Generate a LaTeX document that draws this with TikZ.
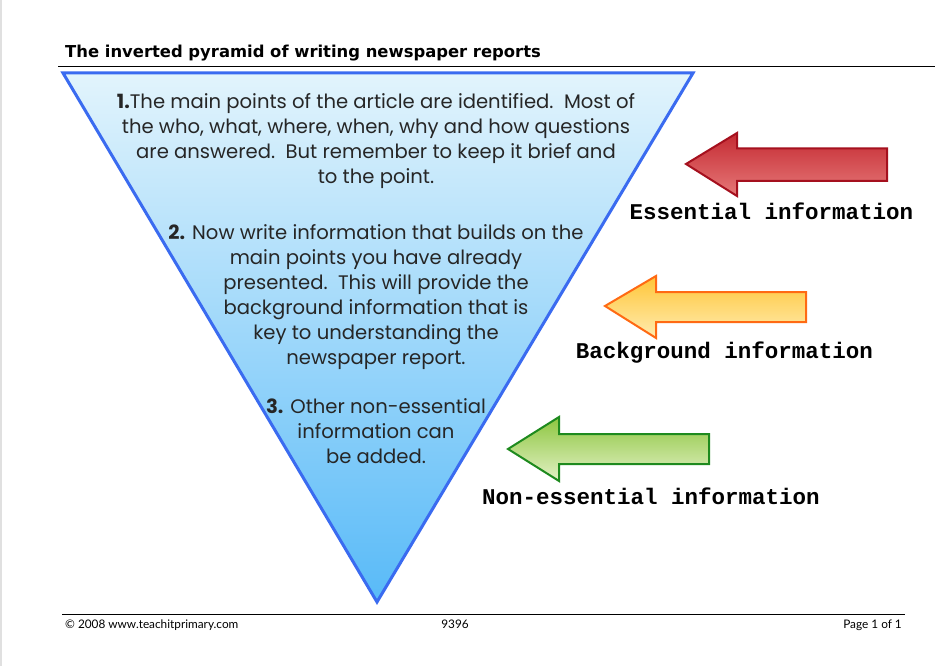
\documentclass[tikz,border=0pt]{standalone}
\usepackage{fontspec}
\setmainfont{Poppins}
\newfontfamily\titlefont{DejaVu Sans}
\newfontfamily\footfont{Lato}
\newfontfamily\monofont{Liberation Mono}
\definecolor{triblue}{HTML}{3A6BF0}
\definecolor{tritop}{HTML}{E2F4FC}
\definecolor{tribot}{HTML}{58BAF8}
\definecolor{redtop}{HTML}{C42A32}
\definecolor{redbot}{HTML}{E67878}
\definecolor{redline}{HTML}{A5101E}
\definecolor{ortop}{HTML}{FFC537}
\definecolor{orbot}{HTML}{FFECB0}
\definecolor{orline}{HTML}{FF6A13}
\definecolor{grtop}{HTML}{8DC63F}
\definecolor{grbot}{HTML}{E3F1C6}
\definecolor{grline}{HTML}{1E8A1E}
\tikzset{
  bodytext/.style={align=center, font=\fontsize{19.6}{25}\selectfont, inner sep=0pt, text=black!85},
  labeltext/.style={font=\monofont\bfseries\fontsize{22.5}{24}\selectfont, inner sep=0pt},
  foottext/.style={font=\footfont\fontsize{11.8}{12}\selectfont, inner sep=0pt},
}
\begin{document}
\begin{tikzpicture}[x=1pt,y=-1pt]
\useasboundingbox (0,0) rectangle (946,666);
\fill[white] (0,0) rectangle (946,666);
\fill[black!12] (0,0) rectangle (2,666);
% title
\node[anchor=base west, font=\titlefont\bfseries\fontsize{16.4}{18}\selectfont, inner sep=0pt] (title) at (65,58) {The inverted pyramid of writing newspaper reports};
\draw[line width=1pt] (58,66.5) -- (935,66.5);
% pyramid
\shade[top color=tritop, bottom color=tribot] (63,73) -- (693,73) -- (377,602) -- cycle;
\draw[triblue, line width=3pt, line join=miter] (63,73) -- (693,73) -- (377,602) -- cycle;
\node[bodytext] (t1) at (376,141.5) {\textbf{1.}The main points of the article are identified.\ \ Most of\\the who, what, where, when, why and how questions\\are answered.\ \ But remember to keep it brief and\\to the point.};
\node[bodytext] (t2) at (376,297.5) {\textbf{2.} Now write information that builds on the\\main points you have already\\presented.\ \ This will provide the\\background information that is\\key to understanding the\\newspaper report.};
\node[bodytext] (t3) at (376,431) {\textbf{3.} Other non-essential\\information can\\be added.};
% arrows
\shade[top color=redtop, bottom color=redbot] (686,164) -- (737,133) -- (737,148.5) -- (887,148.5) -- (887,181) -- (737,181) -- (737,196) -- cycle;
\draw[redline, line width=2pt, line join=miter] (686,164) -- (737,133) -- (737,148.5) -- (887,148.5) -- (887,181) -- (737,181) -- (737,196) -- cycle;
\node[labeltext] (l1) at (771.5,211) {Essential information};
\shade[top color=ortop, bottom color=orbot] (605,306) -- (656,276) -- (656,292) -- (806,292) -- (806,322) -- (656,322) -- (656,338) -- cycle;
\draw[orline, line width=2pt, line join=miter] (605,306) -- (656,276) -- (656,292) -- (806,292) -- (806,322) -- (656,322) -- (656,338) -- cycle;
\node[labeltext] (l2) at (724.5,353) {Background information};
\shade[top color=grtop, bottom color=grbot] (508,449) -- (559,417) -- (559,434) -- (709,434) -- (709,464) -- (559,464) -- (559,481) -- cycle;
\draw[grline, line width=2pt, line join=miter] (508,449) -- (559,417) -- (559,434) -- (709,434) -- (709,464) -- (559,464) -- (559,481) -- cycle;
\node[labeltext] (l3) at (651,496) {Non-essential information};
% footer
\draw[line width=1pt] (62,614) -- (905,614);
\node[foottext, anchor=base west] (f1) at (65,628) {\textcopyright\ 2008 www.teachitprimary.com};
\node[foottext, anchor=base] (f2) at (455,628) {9396};
\node[foottext, anchor=base east] (f3) at (902,628) {Page 1 of 1};
\end{tikzpicture}
\end{document}
